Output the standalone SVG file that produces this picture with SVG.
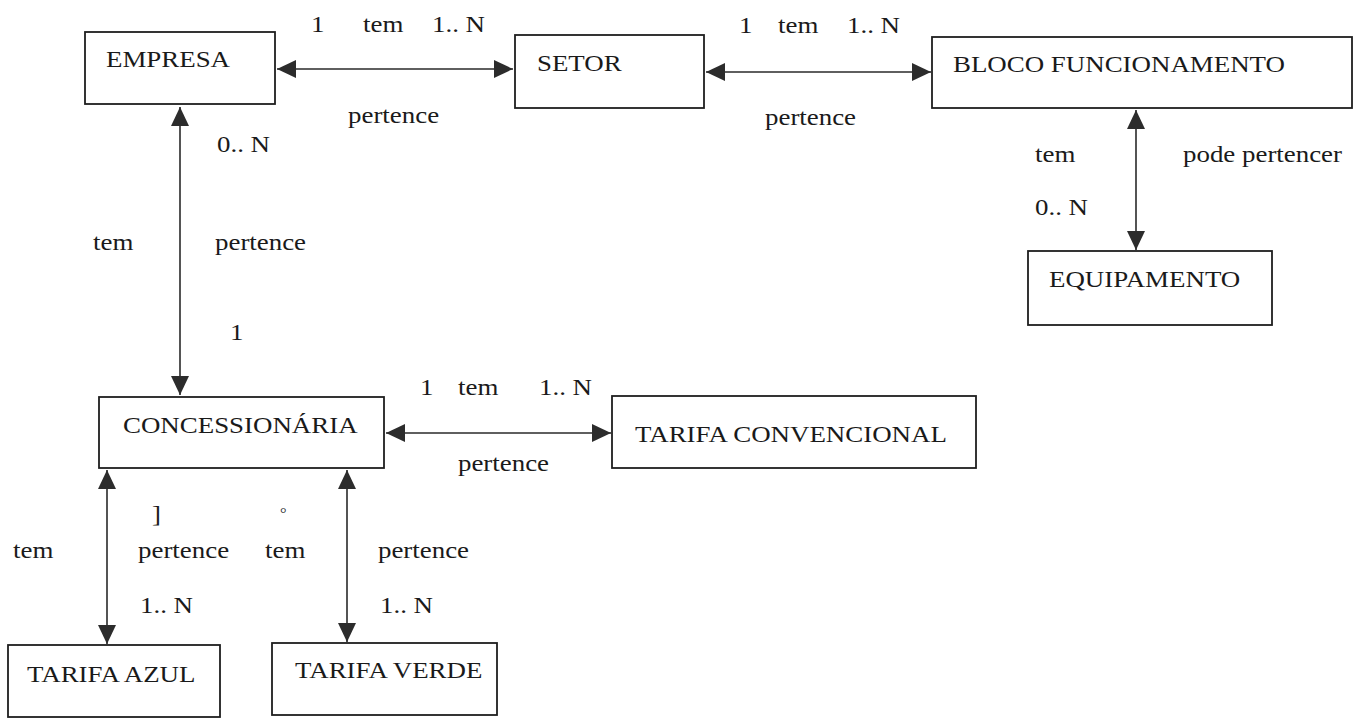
<svg xmlns="http://www.w3.org/2000/svg" width="1364" height="718" viewBox="0 0 1364 718">
  <style>
    .box { fill: #ffffff; stroke: #1e1e1e; stroke-width: 1.8; }
    .link { stroke: #2a2a2a; stroke-width: 1.6; fill: none; marker-start: url(#head); marker-end: url(#head); }
    text { font-family: "Liberation Serif", "Times New Roman", serif; font-size: 23px; fill: #1a1a1a;
           transform-box: fill-box; transform-origin: 0 50%; transform: scaleX(1.17); }
    .tiny { font-size: 14px; }
  </style>
  <defs>
    <marker id="head" markerUnits="userSpaceOnUse" markerWidth="22" markerHeight="20" refX="19" refY="9" orient="auto-start-reverse">
      <path d="M0,0 L19,9 L0,18 Z" fill="#2c2c2c"/>
    </marker>
  </defs>
  <rect width="1364" height="718" fill="#ffffff"/>

  <!-- relationships -->
  <g id="connectors">
    <line class="link" x1="277" y1="69" x2="513" y2="69"/>
    <line class="link" x1="706" y1="72" x2="931" y2="72"/>
    <line class="link" x1="1136" y1="110" x2="1136" y2="250"/>
    <line class="link" x1="180" y1="107" x2="180" y2="395"/>
    <line class="link" x1="386" y1="433" x2="611" y2="433"/>
    <line class="link" x1="107" y1="470" x2="107" y2="644"/>
    <line class="link" x1="347" y1="470" x2="347" y2="642"/>
  </g>

  <!-- entities -->
  <g id="empresa">
    <rect class="box" x="85" y="32" width="190" height="72"/>
    <text x="106" y="67">EMPRESA</text>
  </g>
  <g id="setor">
    <rect class="box" x="515" y="35" width="189" height="73"/>
    <text x="537" y="71">SETOR</text>
  </g>
  <g id="bloco-funcionamento">
    <rect class="box" x="932" y="37" width="420" height="71"/>
    <text x="953" y="72">BLOCO FUNCIONAMENTO</text>
  </g>
  <g id="equipamento">
    <rect class="box" x="1028" y="251" width="244" height="74"/>
    <text x="1049" y="287">EQUIPAMENTO</text>
  </g>
  <g id="concessionaria">
    <rect class="box" x="99" y="397" width="285" height="71"/>
    <text x="123" y="433">CONCESSIONÁRIA</text>
  </g>
  <g id="tarifa-convencional">
    <rect class="box" x="612" y="396" width="364" height="72"/>
    <text x="635" y="442">TARIFA CONVENCIONAL</text>
  </g>
  <g id="tarifa-azul">
    <rect class="box" x="8" y="645" width="212" height="72"/>
    <text x="27" y="682">TARIFA AZUL</text>
  </g>
  <g id="tarifa-verde">
    <rect class="box" x="272" y="643" width="225" height="72"/>
    <text x="295" y="678">TARIFA VERDE</text>
  </g>

  <!-- cardinalities and role names -->
  <g id="labels">
    <text x="311" y="32">1</text>
    <text x="363" y="32">tem</text>
    <text x="432" y="32">1.. N</text>
    <text x="348" y="123">pertence</text>

    <text x="739" y="33">1</text>
    <text x="778" y="33">tem</text>
    <text x="847" y="33">1.. N</text>
    <text x="765" y="125">pertence</text>

    <text x="217" y="152">0.. N</text>
    <text x="93" y="250">tem</text>
    <text x="215" y="250">pertence</text>
    <text x="230" y="340">1</text>

    <text x="1035" y="162">tem</text>
    <text x="1183" y="162">pode pertencer</text>
    <text x="1035" y="215">0.. N</text>

    <text x="420" y="395">1</text>
    <text x="458" y="395">tem</text>
    <text x="539" y="395">1.. N</text>
    <text x="458" y="471">pertence</text>

    <text x="152" y="522">]</text>
    <text class="tiny" x="280" y="518">°</text>
    <text x="13" y="558">tem</text>
    <text x="138" y="558">pertence</text>
    <text x="265" y="558">tem</text>
    <text x="378" y="558">pertence</text>
    <text x="140" y="613">1.. N</text>
    <text x="380" y="613">1.. N</text>
  </g>
</svg>
